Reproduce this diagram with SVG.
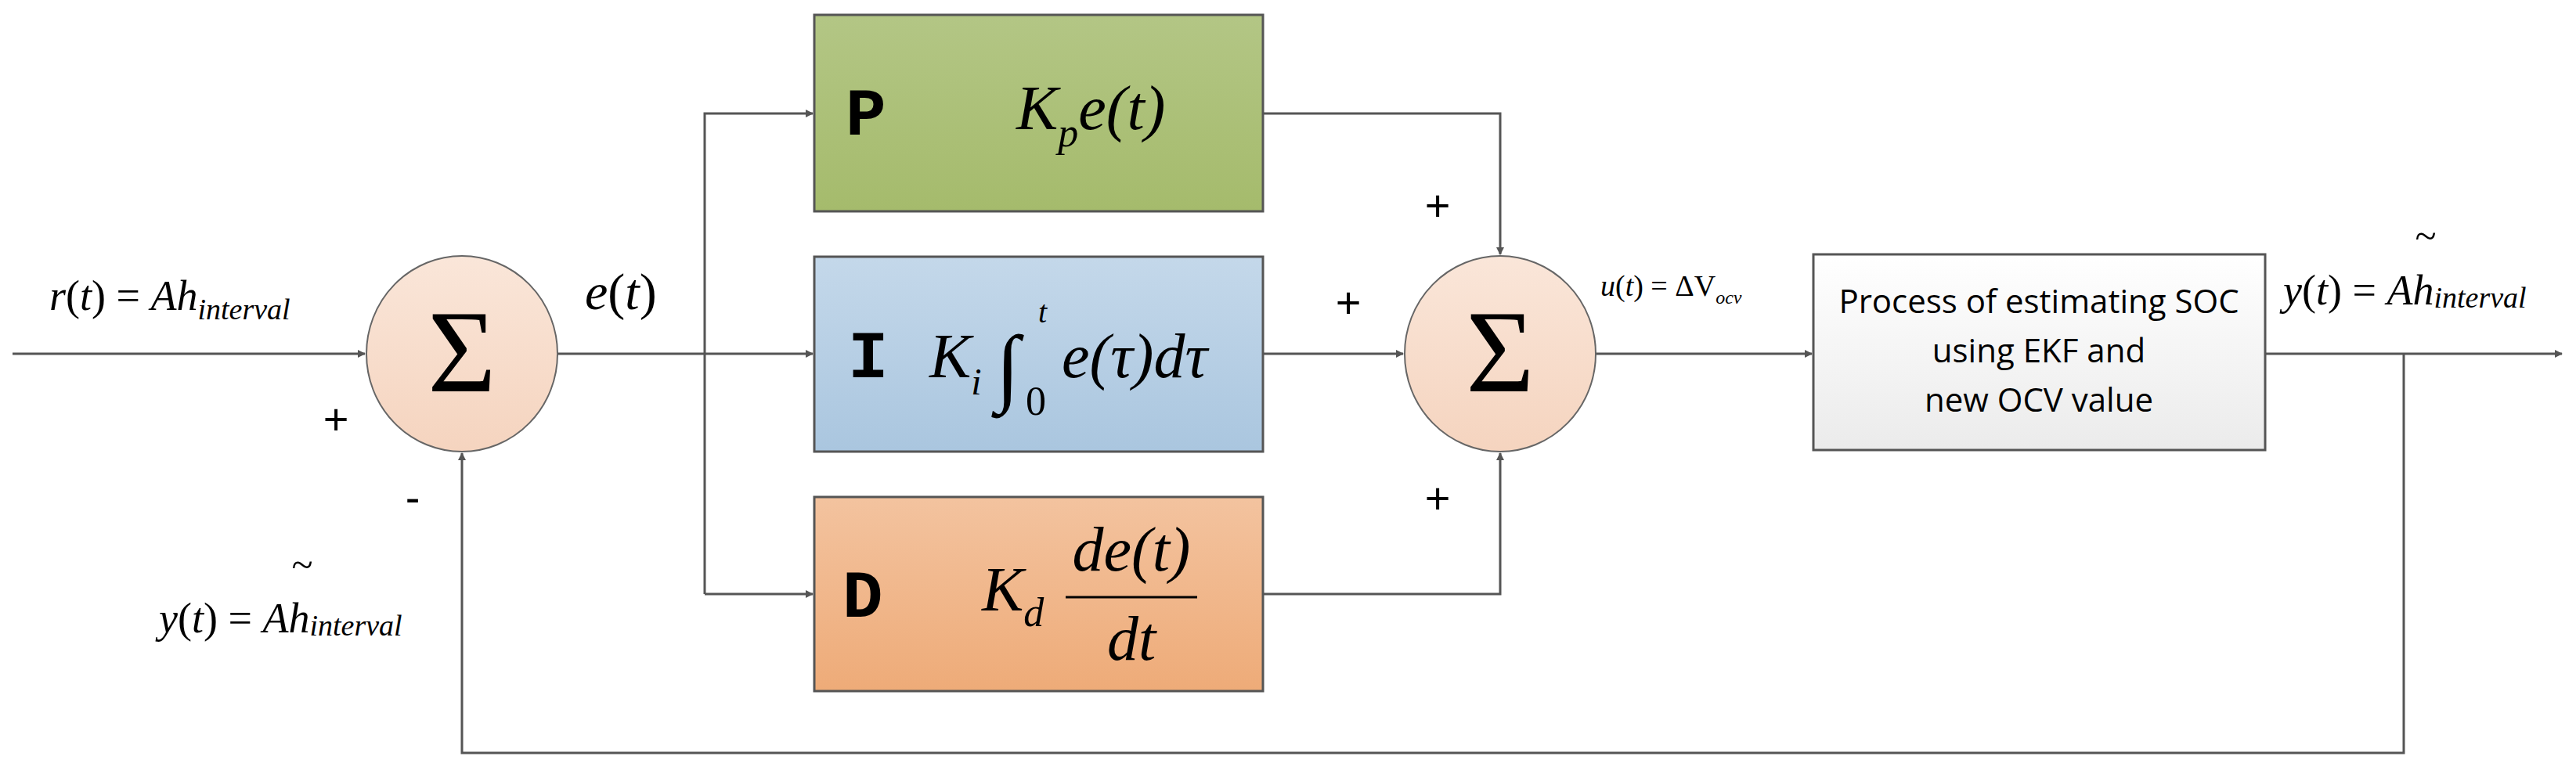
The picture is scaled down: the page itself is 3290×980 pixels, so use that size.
<svg xmlns="http://www.w3.org/2000/svg" width="3290" height="980" viewBox="0 0 3290 980">
<style>
.ln{fill:none;stroke:#555;stroke-width:3}
.bx{stroke:#555;stroke-width:3}
.m{font-family:"Liberation Serif",serif;font-style:italic;fill:#000}
.r{font-family:"Liberation Serif",serif;fill:#000}
.s{font-family:"Liberation Sans",sans-serif;fill:#000}
.L{font-family:"Liberation Mono",monospace;font-weight:bold;fill:#000;font-size:86px}
.c{font-family:"Open Sans","Liberation Sans",sans-serif;fill:#000;font-size:42px;text-anchor:middle}
</style>
<defs>
<marker id="a" markerWidth="10" markerHeight="10" refX="9" refY="5" orient="auto" markerUnits="userSpaceOnUse" viewBox="0 0 10 10"><path d="M0,0 L10,5 L0,10z" fill="#555"/></marker>
<linearGradient id="gP" x1="0" y1="0" x2="0" y2="1"><stop offset="0" stop-color="#b3c685"/><stop offset="1" stop-color="#a5bb6c"/></linearGradient>
<linearGradient id="gI" x1="0" y1="0" x2="0" y2="1"><stop offset="0" stop-color="#c4d8ea"/><stop offset="1" stop-color="#aac6df"/></linearGradient>
<linearGradient id="gD" x1="0" y1="0" x2="0" y2="1"><stop offset="0" stop-color="#f3c39f"/><stop offset="1" stop-color="#eeab78"/></linearGradient>
<linearGradient id="gC" x1="0" y1="0" x2="0" y2="1"><stop offset="0" stop-color="#fae6d9"/><stop offset="1" stop-color="#f5d4bf"/></linearGradient>
<linearGradient id="gB" x1="0" y1="0" x2="0" y2="1"><stop offset="0" stop-color="#ffffff"/><stop offset="1" stop-color="#ebebeb"/></linearGradient>
</defs>
<g id="connectors">
<path class="ln" d="M16,452 H466" marker-end="url(#a)"/>
<path class="ln" d="M712,452 H900"/>
<path class="ln" d="M900,452 H1038" marker-end="url(#a)"/>
<path class="ln" d="M900,759 V145 H1038" marker-end="url(#a)"/>
<path class="ln" d="M900,759 H1038" marker-end="url(#a)"/>
<path class="ln" d="M1613,145 H1916 V325" marker-end="url(#a)"/>
<path class="ln" d="M1613,759 H1916 V579" marker-end="url(#a)"/>
<path class="ln" d="M1613,452 H1792" marker-end="url(#a)"/>
<path class="ln" d="M2038,452 H2314" marker-end="url(#a)"/>
<path class="ln" d="M2893,452 H3272" marker-end="url(#a)"/>
<path class="ln" d="M3070,452 V962 H590 V579" marker-end="url(#a)"/>
</g>
<g id="sum1"><ellipse cx="590" cy="452" rx="122" ry="125" fill="url(#gC)" stroke="#666" stroke-width="2"/><text class="r" x="590" y="500" font-size="150" text-anchor="middle">Σ</text></g>
<g id="sum2"><ellipse cx="1916" cy="452" rx="122" ry="125" fill="url(#gC)" stroke="#666" stroke-width="2"/><text class="r" x="1916" y="500" font-size="150" text-anchor="middle">Σ</text></g>
<g id="P"><rect class="bx" x="1040" y="19" width="573" height="251" fill="url(#gP)"/>
<text class="L" x="1080" y="172">P</text>
<text class="m" x="1298" y="165" font-size="80">K<tspan font-size="52" dy="22">p</tspan><tspan dy="-22">e(t)</tspan></text></g>
<g id="I"><rect class="bx" x="1040" y="328" width="573" height="249" fill="url(#gI)"/>
<text class="L" x="1083" y="482">I</text>
<text class="m" x="1187" y="482" font-size="80">K<tspan font-size="48" dy="22">i</tspan></text>
<text class="r" x="1272" y="505" font-size="110">∫</text>
<text class="m" x="1326" y="412" font-size="40">t</text>
<text class="r" x="1310" y="530" font-size="52">0</text>
<text class="m" x="1356" y="482" font-size="80">e(τ)dτ</text></g>
<g id="D"><rect class="bx" x="1040" y="635" width="573" height="248" fill="url(#gD)"/>
<text class="L" x="1076" y="788">D</text>
<text class="m" x="1254" y="780" font-size="80">K<tspan font-size="52" dy="20">d</tspan></text>
<line x1="1361" y1="763" x2="1529" y2="763" stroke="#000" stroke-width="3"/>
<text class="m" x="1445" y="729" font-size="80" text-anchor="middle">de(t)</text>
<text class="m" x="1445" y="843" font-size="80" text-anchor="middle">dt</text></g>
<g id="process"><rect class="bx" x="2316" y="325" width="577" height="250" fill="url(#gB)"/>
<text class="c" x="2604" y="400">Process of estimating SOC</text>
<text class="c" x="2604" y="463">using EKF and</text>
<text class="c" x="2604" y="526">new OCV value</text></g>
<g id="labels">
<text class="m" x="63" y="396" font-size="54">r<tspan class="r" font-style="normal">(</tspan>t<tspan font-style="normal">) = </tspan>Ah<tspan font-size="38" dy="12">interval</tspan></text>
<text class="m" x="747" y="395" font-size="66">e<tspan font-style="normal">(</tspan>t<tspan font-style="normal">)</tspan></text>
<text class="s" x="429" y="555" font-size="56" text-anchor="middle">+</text>
<text class="s" x="527" y="655" font-size="56" text-anchor="middle">-</text>
<text class="m" x="203" y="808" font-size="54">y<tspan font-style="normal">(</tspan>t<tspan font-style="normal">) = </tspan>Ah<tspan font-size="38" dy="4">interval</tspan></text>
<text class="r" x="386" y="738" font-size="50" text-anchor="middle">~</text>
<text class="s" x="1836" y="282" font-size="56" text-anchor="middle">+</text>
<text class="s" x="1722" y="406" font-size="56" text-anchor="middle">+</text>
<text class="s" x="1836" y="656" font-size="56" text-anchor="middle">+</text>
<text class="m" x="2044" y="378" font-size="38">u<tspan font-style="normal">(</tspan>t<tspan font-style="normal">) = ΔV</tspan><tspan font-size="24" dy="10">ocv</tspan></text>
<text class="m" x="2916" y="389" font-size="54">y<tspan font-style="normal">(</tspan>t<tspan font-style="normal">) = </tspan>Ah<tspan font-size="38" dy="4">interval</tspan></text>
<text class="r" x="3098" y="318" font-size="50" text-anchor="middle">~</text>
</g>
</svg>
